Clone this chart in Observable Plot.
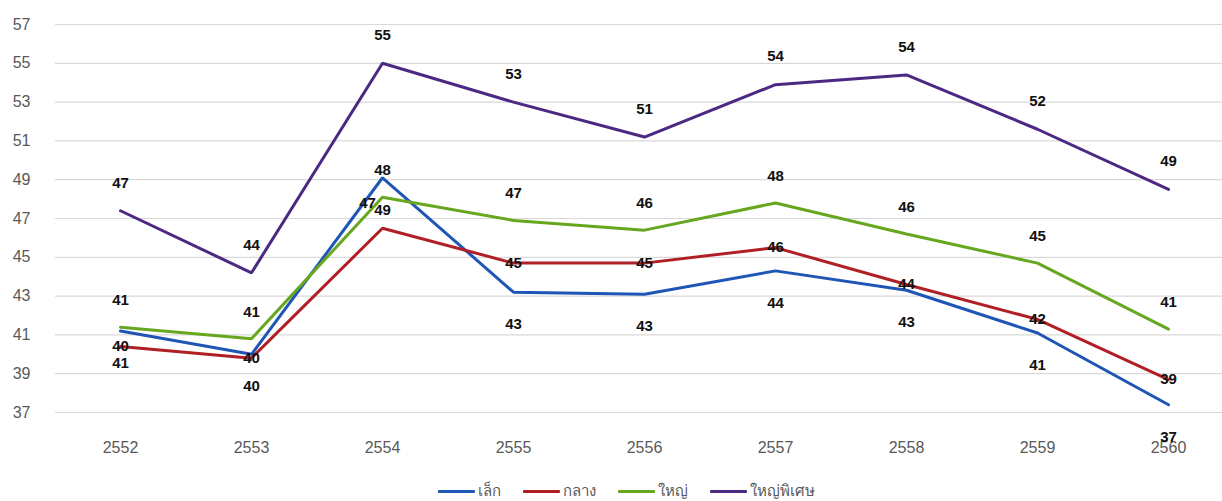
<!DOCTYPE html>
<html>
<head>
<meta charset="utf-8">
<script src="https://cdn.jsdelivr.net/npm/d3@7"></script>
<script src="https://cdn.jsdelivr.net/npm/@observablehq/plot@0.6"></script>
<style>
  html, body { margin: 0; padding: 0; background: #fff; }
  body { width: 1222px; height: 501px; overflow: hidden; font-family: "Liberation Sans", Arial, sans-serif; }
  #legend { display: flex; justify-content: center; align-items: center; gap: 22px; margin-top: 12px; padding-left: 30px; font-size: 15px; line-height: 18px; color: #595959; }
  .item { display: flex; align-items: center; }
  .sw { display: inline-block; width: 37px; height: 3px; margin-right: 3px; border-radius: 1px; }
</style>
</head>
<body>
<div id="chart"></div>
<div id="legend"></div>
<script>
const years = ["2552", "2553", "2554", "2555", "2556", "2557", "2558", "2559", "2560"];
const seriesNames = ["เล็ก", "กลาง", "ใหญ่", "ใหญ่พิเศษ"];
const small  = [41.2, 40.0, 49.1, 43.2, 43.1, 44.3, 43.3, 41.1, 37.4];
const medium = [40.4, 39.8, 46.5, 44.7, 44.7, 45.5, 43.6, 41.8, 38.7];
const large  = [41.4, 40.8, 48.1, 46.9, 46.4, 47.8, 46.2, 44.7, 41.3];
const xlarge = [47.4, 44.2, 55.0, 53.0, 51.2, 53.9, 54.4, 51.6, 48.5];
const yTicks = [37, 39, 41, 43, 45, 47, 49, 51, 53, 55, 57];
const colors = ["#1f55b5", "#b01f26", "#67a71f", "#4b2983"];

const seriesValues = [small, medium, large, xlarge];
const rows = [];
seriesValues.forEach((vals, si) => {
  vals.forEach((v, i) => rows.push({ year: years[i], value: v, series: seriesNames[si], idx: i }));
});
const of = (s) => rows.filter(d => d.series === s);
const lbl = d => String(Math.round(d.value));
const textOpts = { x: "year", y: "value", text: lbl, fontWeight: "bold", fontSize: 15, fill: "#111" };

const chart = Plot.plot({
  width: 1222,
  height: 470,
  marginLeft: 55,
  marginRight: 0,
  marginTop: 24,
  marginBottom: 58,
  style: { fontFamily: "Liberation Sans, Arial, sans-serif", background: "#fff" },
  x: { type: "point", domain: years, range: [120, 1168], padding: 0, label: null },
  y: { domain: [37, 57], label: null },
  color: { domain: seriesNames, range: colors },
  marks: [
    Plot.ruleY(yTicks, { stroke: "#d9d9d9", strokeWidth: 1.2 }),
    Plot.axisY(yTicks, { tickSize: 0, tickPadding: 25, fontSize: 16, fill: "#595959", label: null }),
    Plot.axisX(years, { tickSize: 0, tickPadding: 29, fontSize: 16, fill: "#595959", label: null }),
    Plot.line(rows, { x: "year", y: "value", z: "series", stroke: "series", strokeWidth: 3, strokeLinejoin: "miter" }),
    Plot.text(of(seriesNames[0]), { ...textOpts, dy: 32 }),
    Plot.text(of(seriesNames[1]).filter(d => d.idx !== 2), { ...textOpts, dy: 0 }),
    Plot.text(of(seriesNames[1]).filter(d => d.idx === 2), { ...textOpts, dx: -15, dy: -25 }),
    Plot.text(of(seriesNames[2]), { ...textOpts, dy: -27 }),
    Plot.text(of(seriesNames[3]), { ...textOpts, dy: -28 })
  ]
});
document.getElementById("chart").appendChild(chart);

const legend = document.getElementById("legend");
seriesNames.forEach((name, i) => {
  const item = document.createElement("div");
  item.className = "item";
  const sw = document.createElement("span");
  sw.className = "sw";
  sw.style.background = colors[i];
  const t = document.createElement("span");
  t.textContent = name;
  item.appendChild(sw);
  item.appendChild(t);
  legend.appendChild(item);
});
</script>
</body>
</html>
